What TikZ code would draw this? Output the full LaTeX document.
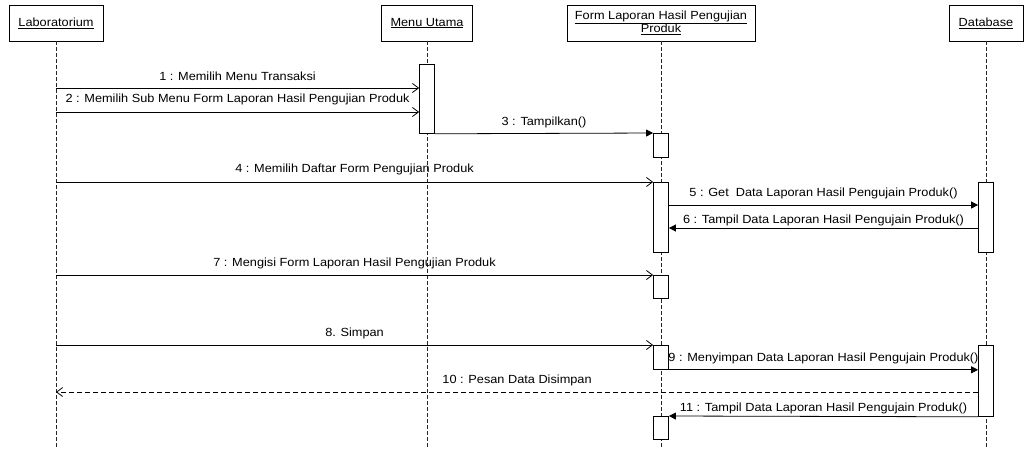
\documentclass[tikz,border=0pt]{standalone}
\usepackage{fontspec}
\setmainfont[FakeStretch=1.08]{Liberation Sans}
\usetikzlibrary{arrows.meta}

\begin{document}
\begin{tikzpicture}[x=1pt,y=-1pt,line width=0.8pt,font=\fontsize{11.8}{13}\selectfont,
    head/.style={draw,fill=white,minimum height=36pt,inner sep=0pt,align=center},
    life/.style={draw=black!85,dash pattern=on 4pt off 2pt},
    act/.style={draw,fill=white,minimum width=15pt,inner sep=0pt,anchor=north},
    call/.style={-{Straight Barb[length=6pt,width=9pt]}},
    sync/.style={-{Triangle[length=7pt,width=7pt]}},
    reply/.style={dash pattern=on 5pt off 3pt,-{Straight Barb[length=6pt,width=9pt]}},
    lbl/.style={midway,above=#1,inner sep=1pt},lbl/.default=5pt]
    \useasboundingbox (0,0) rectangle (1027,448);
    % objects
    \node[head,minimum width=94pt] (lab) at (56,23) {\underline{Laboratorium}};
    \node[head,minimum width=91pt] (menu) at (427,23) {\underline{Menu Utama}};
    \node[head,minimum width=188pt] (form) at (661,23) {\underline{Form Laporan Hasil Pengujian}\\\underline{Produk}};
    \node[head,minimum width=74pt] (db) at (986,23) {\underline{Database}};
    % lifelines
    \foreach \o in {lab,menu,form,db}
        \draw[life] (\o.south) -- (\o.south |- 0,448);
    % activations
    \node[act,minimum height=69pt] (menuA) at (427,64) {};
    \node[act,minimum height=24pt] (formA) at (661,133) {};
    \node[act,minimum height=70pt] (formB) at (661,182) {};
    \node[act,minimum height=70pt] (dbA) at (986,182) {};
    \node[act,minimum height=23pt] (formC) at (661,275) {};
    \node[act,minimum height=24pt] (formD) at (661,345) {};
    \node[act,minimum height=71pt] (dbB) at (986,345) {};
    \node[act,minimum height=23pt] (formE) at (661,416) {};
    % messages
    \draw[call] (lab |- 0,88) -- (menuA.west |- 0,88) node[lbl=6pt] {1 : Memilih Menu Transaksi};
    \draw[call] (lab |- 0,112) -- (menuA.west |- 0,112) node[lbl=6pt] {2 : Memilih Sub Menu Form Laporan Hasil Pengujian Produk};
    \draw[sync] (menuA.south east) -- (formA.north west) node[lbl=4pt] {3 : Tampilkan()};
    \draw[call] (lab |- formB.north) -- (formB.north west) node[lbl=6pt] {4 : Memilih Daftar Form Pengujian Produk};
    \draw[sync] (formB.east |- 0,205) -- (dbA.west |- 0,205) node[lbl] {5 : Get\ \ Data Laporan Hasil Pengujain Produk()};
    \draw[sync] (dbA.west |- 0,228) -- (formB.east |- 0,228) node[lbl=1pt] {6 : Tampil Data Laporan Hasil Pengujain Produk()};
    \draw[call] (lab |- formC.north) -- (formC.north west) node[lbl] {7 : Mengisi Form Laporan Hasil Pengujian Produk};
    \draw[call] (lab |- formD.north) -- (formD.north west) node[lbl] {8. Simpan};
    \draw[sync] (formD.south east) -- (dbB.west |- formD.south) node[lbl=4pt] {9 : Menyimpan Data Laporan Hasil Pengujain Produk()};
    \draw[reply] (dbB.west |- 0,392) -- (lab |- 0,392) node[lbl] {10 : Pesan Data Disimpan};
    \draw[sync] (dbB.south west) -- (formE.north east) node[lbl=1pt] {11 : Tampil Data Laporan Hasil Pengujain Produk()};
\end{tikzpicture}
\end{document}
